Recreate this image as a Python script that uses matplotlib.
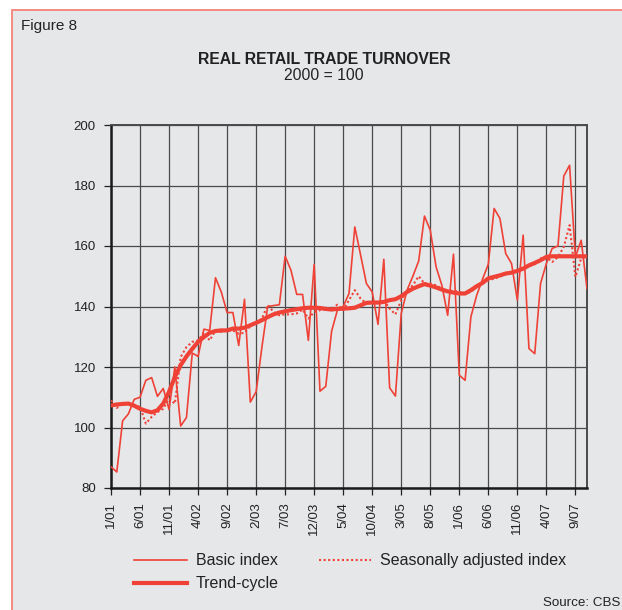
import numpy as np
import matplotlib
matplotlib.use('Agg')
import matplotlib.pyplot as plt
from matplotlib.patches import Rectangle

plt.rcParams['font.family'] = ['Liberation Sans', 'DejaVu Sans']

# monthly index, 1/01 .. 11/07
basic = [87.0, 85.3, 102.2, 104.5, 109.3, 110.0, 115.6, 116.5, 110.3, 112.9,
         106.0, 120.0, 100.5, 103.3, 124.6, 123.5, 132.5, 132.1, 149.5, 144.8,
         138.0, 138.0, 127.1, 142.4, 108.4, 111.8, 126.6, 140.0, 140.3, 140.6,
         156.6, 152.0, 144.0, 144.0, 128.8, 153.9, 112.0, 113.6, 131.8, 138.8,
         140.0, 144.3, 166.3, 157.0, 147.6, 144.8, 134.1, 155.6, 113.1, 110.4,
         137.7, 145.4, 150.0, 155.0, 169.9, 165.2, 153.1, 147.0, 137.1, 157.3,
         117.3, 115.6, 136.6, 143.7, 149.0, 154.0, 172.4, 169.1, 157.5, 154.2,
         142.1, 163.6, 126.1, 124.4, 147.6, 154.2, 159.2, 160.0, 183.1, 186.7,
         156.4, 161.9, 145.9]
seas_adj = [109.0, 106.5, 107.9, 108.0, 107.3, 106.8, 101.3, 103.5, 105.1, 106.2,
            109.5, 107.9, 123.3, 126.6, 128.3, 128.8, 131.3, 128.8, 132.1, 131.6,
            132.1, 132.1, 131.0, 131.3, 133.5, 134.4, 136.0, 140.5, 138.2, 137.1,
            137.4, 137.4, 137.7, 139.0, 136.0, 138.2, 138.8, 139.1, 139.2, 140.6,
            138.8, 142.1, 145.4, 142.6, 141.0, 141.2, 141.5, 142.1, 139.3, 137.4,
            142.1, 145.4, 147.0, 150.0, 147.6, 147.6, 147.0, 145.9, 144.8, 145.4,
            144.8, 144.3, 144.8, 146.5, 147.6, 148.7, 149.2, 149.8, 150.9, 151.1,
            151.4, 153.1, 153.3, 154.0, 155.9, 156.4, 154.7, 156.4, 159.7, 166.9,
            149.8, 155.9, 156.4]
trend = [107.3, 107.6, 107.8, 107.9, 107.2, 106.2, 105.5, 105.0, 105.7, 107.9,
         111.8, 116.7, 120.6, 123.5, 126.0, 128.3, 129.9, 131.3, 131.9, 132.1,
         132.1, 132.7, 132.7, 133.0, 133.8, 134.6, 135.5, 136.5, 137.4, 138.0,
         138.4, 138.8, 139.1, 139.4, 139.6, 139.6, 139.5, 139.2, 139.0, 139.2,
         139.3, 139.4, 139.6, 140.4, 141.2, 141.3, 141.3, 141.5, 142.1, 142.4,
         143.4, 144.8, 145.9, 146.7, 147.4, 146.9, 146.3, 145.6, 145.0, 144.6,
         144.3, 144.3, 145.4, 146.7, 147.8, 149.3, 149.8, 150.3, 150.9, 151.2,
         151.8, 152.5, 153.6, 154.4, 155.3, 156.4, 156.6, 156.6, 156.6, 156.6,
         156.6, 156.6, 156.6]
tick_labels = ['1/01', '6/01', '11/01', '4/02', '9/02', '2/03', '7/03', '12/03',
               '5/04', '10/04', '3/05', '8/05', '1/06', '6/06', '11/06', '4/07', '9/07']

red = '#ef4136'
bg = '#e6e7e9'
x = np.arange(len(basic))

fig = plt.figure(figsize=(6.22, 6.10), dpi=100)
fig.patch.set_facecolor('white')
fig.add_artist(Rectangle((12/622, -0.01), 1.0, 1 - 10/610 + 0.01, transform=fig.transFigure,
                         facecolor=bg, edgecolor='#f4837a', lw=1.3, zorder=-10))

ax = fig.add_axes([111/622, 1 - 488/610, 476/622, 363/610])
ax.set_facecolor('none')

l1, = ax.plot(x, basic, color=red, lw=1.2, label='Basic index', zorder=3)
l3, = ax.plot(x, seas_adj, color=red, lw=1.5, ls=(0, (1, 1.2)),
              label='Seasonally adjusted index', zorder=4)
l2, = ax.plot(x, trend, color=red, lw=3.0, label='Trend-cycle', zorder=5)

ax.set_xlim(0, 82)
ax.set_ylim(80, 200)
ax.set_yticks(range(80, 201, 20))
ax.set_xticks(range(0, 81, 5))
ax.set_xticklabels(tick_labels, rotation=90)
ax.grid(True, color='#4a4a4a', lw=0.9)
ax.set_axisbelow(True)
ax.tick_params(axis='both', labelsize=9.5, colors='#222222', length=5, width=0.9,
               direction='out')
ax.tick_params(axis='y', pad=6)
ax.tick_params(axis='x', pad=5)
for s in ['left', 'bottom']:
    ax.spines[s].set_linewidth(1.8)
    ax.spines[s].set_color('#1a1a1a')
for s in ['top', 'right']:
    ax.spines[s].set_linewidth(1.4)
    ax.spines[s].set_color('#4a4a4a')

fig.text(21/622, 1 - 26/610, 'Figure 8', fontsize=11, va='center', ha='left', color='#222222')
fig.text(324/622, 1 - 60/610, 'REAL RETAIL TRADE TURNOVER', fontsize=11.3, fontweight='bold',
         va='center', ha='center', color='#222222')
fig.text(324/622, 1 - 76/610, '2000 = 100', fontsize=11.3, va='center', ha='center', color='#222222')
fig.text(620/622, 1 - 603/610, 'Source: CBS', fontsize=9.6, va='center', ha='right', color='#222222')

fig.legend(handles=[l1, l2, l3], ncol=2, frameon=False, fontsize=11.5,
           loc='upper left', bbox_to_anchor=(123/622, 1 - 542/610),
           handlelength=3.3, handletextpad=0.55, columnspacing=2.5, labelspacing=0.5,
           borderpad=0.2, labelcolor='#222222')

fig.savefig('out.png', dpi=100, facecolor=fig.get_facecolor())
